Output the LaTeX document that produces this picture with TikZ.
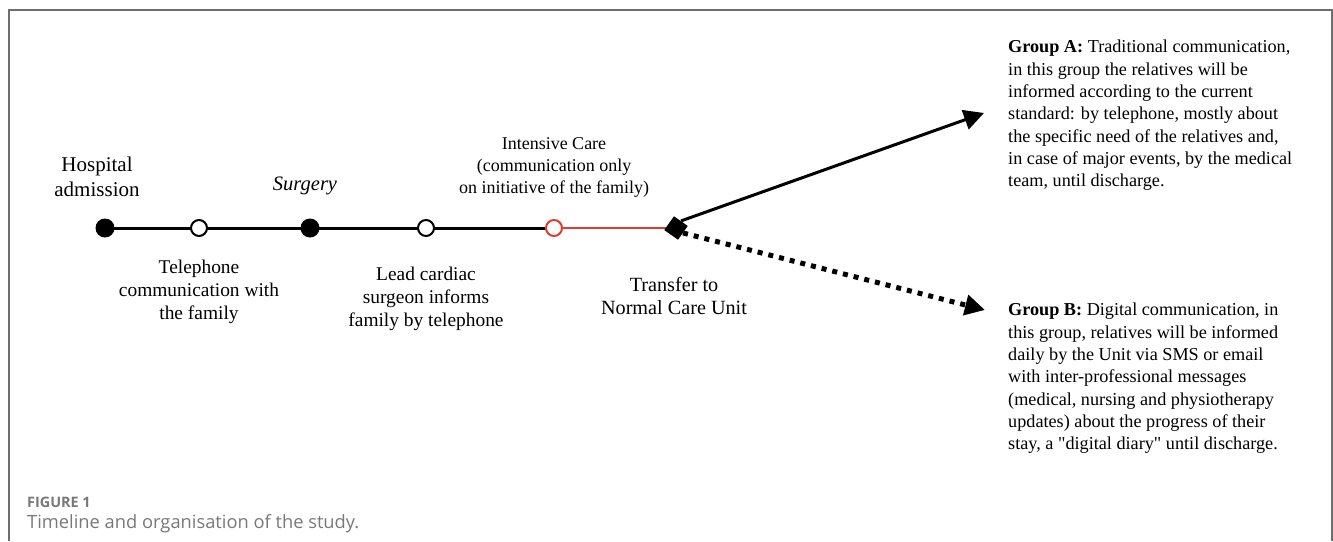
\documentclass[tikz,border=0pt]{standalone}
\usepackage{fontspec}
\setmainfont{Liberation Serif}
\newfontfamily\capfont{Open Sans}
\usetikzlibrary{arrows.meta,positioning,shapes.geometric}
\definecolor{framegray}{RGB}{110,110,110}
\definecolor{capgray}{RGB}{120,120,120}
\definecolor{icured}{RGB}{225,60,45}
\begin{document}
\begin{tikzpicture}[x=1pt,y=-1pt,
		fullpoint/.style={circle,fill=black,inner sep=0pt,minimum size=19pt},
		openpoint/.style={circle,draw,line width=2pt,fill=white,inner sep=0pt,minimum size=16pt},
		steptext/.style={align=center,font=\fontsize{19.4}{23}\selectfont},
		grouptext/.style={align=left,anchor=north west,inner sep=0pt,font=\fontsize{18.2}{22.3}\selectfont},
		node distance=64pt
		]
		\useasboundingbox (0,0) rectangle (1333,541);
		\draw[framegray,line width=1.2pt] (9,541) -- (9,10) -- (1332,10) -- (1332,541);
		% timeline
		\coordinate (P0) at (105,228);
		\coordinate (P1) at (199,228);
		\coordinate (P2) at (310,228);
		\coordinate (P3) at (426,228);
		\coordinate (P4) at (554,228);
		\draw[line width=3pt] (P0) -- (P4);
		\draw[icured,line width=2.5pt] (P4) -- (676,228);
		\node[fullpoint](S0) at (P0){};
		\node[openpoint](S1) at (P1){};
		\node[fullpoint](S2) at (P2){};
		\node[openpoint](S3) at (P3){};
		\node[openpoint,draw=icured](S4) at (P4){};
		\node[diamond,fill=black,inner sep=0pt,minimum size=24pt,rotate=10](S5) at (676,228){};
		\coordinate (TA) at (984,113);
		\coordinate (TB) at (985,310);
		\draw[line width=3pt,-{Triangle[length=20pt,width=20pt]}] (S5.north east) -- (TA);
		\draw[line width=5pt,dash pattern=on 5pt off 6pt,-{Triangle[length=20pt,width=20pt]}] (S5.south east) -- (TB);
		% labels
		\node[steptext, above of = S0, yshift = -13pt, xshift = -8pt, font=\fontsize{21}{25}\selectfont](L0){Hospital\\admission};
		\node[steptext, above of = S2, yshift = -22pt, xshift = -5pt, font=\fontsize{20.5}{23}\selectfont](L2){\itshape Surgery};
		\node[steptext, below of = S1](L1){Telephone\\communication with\\the family};
		\node[steptext, below of = S3, yshift = -7pt](L3){Lead cardiac\\surgeon informs\\family by telephone};
		\node[steptext, above of = S4, yshift = -3pt, font=\fontsize{18}{22}\selectfont](L4){Intensive Care\\(communication only\\on initiative of the family)};
		\node[steptext, below of = S5, yshift = -4pt, xshift = -2pt, font=\fontsize{20.2}{23}\selectfont](L5){Transfer to\\Normal Care Unit};
		\node[grouptext](GA) at (1008,40){\textbf{Group A:} Traditional communication,\\in this group the relatives will be\\informed according to the current\\standard: by telephone, mostly about\\the specific need of the relatives and,\\in case of major events, by the medical\\team, until discharge.};
		\node[grouptext](GB) at (1008,303){\textbf{Group B:} Digital communication, in\\this group, relatives will be informed\\daily by the Unit via SMS or email\\with inter-professional messages\\(medical, nursing and physiotherapy\\updates) about the progress of their\\stay, a \textquotedbl digital diary\textquotedbl{} until discharge.};
		% caption
		\node[anchor=west,inner sep=0pt,text=capgray,font=\capfont\bfseries\fontsize{14.4}{16}\selectfont](F1) at (27,502){FIGURE 1};
		\node[anchor=west,inner sep=0pt,text=capgray,font=\capfont\fontsize{18.3}{21}\selectfont](F2) at (27,524){Timeline and organisation of the study.};
	\end{tikzpicture}
\end{document}
